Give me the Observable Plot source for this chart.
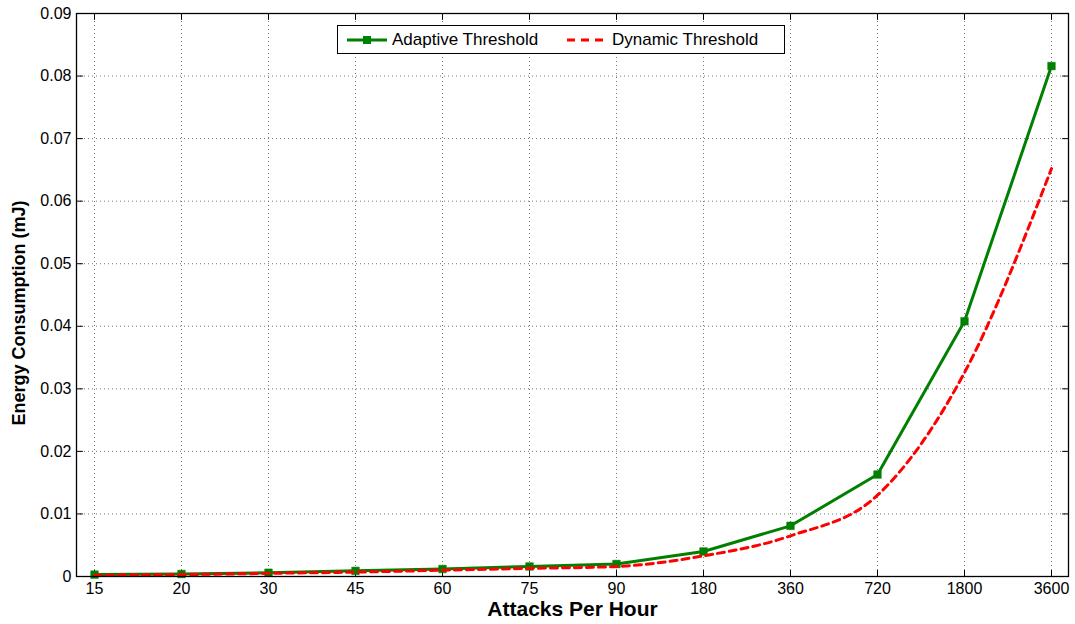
<!DOCTYPE html>
<html>
<head>
<meta charset="utf-8">
<script src="https://cdn.jsdelivr.net/npm/d3@7"></script>
<script src="https://cdn.jsdelivr.net/npm/@observablehq/plot@0.6"></script>
<style>
  html, body { margin: 0; padding: 0; background: #fff; }
  #wrap { position: relative; width: 1075px; height: 624px; font-family: "Liberation Sans", Arial, sans-serif; }
  #legend { position: absolute; left: 337px; top: 25px; width: 446px; height: 27px; border: 1px solid #000; background: #fff; box-sizing: content-box; }
  #legend svg { position: absolute; left: 0; top: 0; }
  #legend span { position: absolute; top: 4px; font-size: 17px; color: #000; white-space: nowrap; }
</style>
</head>
<body>
<div id="wrap"></div>
<script>
const categories = ["15", "20", "30", "45", "60", "75", "90", "180", "360", "720", "1800", "3600"];
const adaptive = [0.0003, 0.0004, 0.0006, 0.0009, 0.0012, 0.0016, 0.0020, 0.0040, 0.0081, 0.0163, 0.0408, 0.0816];
const dynamic  = [0.0002, 0.0003, 0.0005, 0.0007, 0.0010, 0.0013, 0.0016, 0.0033, 0.0065, 0.0130, 0.0326, 0.0652];
const yTicks = [0, 0.01, 0.02, 0.03, 0.04, 0.05, 0.06, 0.07, 0.08, 0.09];
const seriesNames = ["Adaptive Threshold", "Dynamic Threshold"];
const xLabel = "Attacks Per Hour";
const yLabel = "Energy Consumption (mJ)";

const green = "#008000";
const red = "#ff0000";

const rows = categories.map((c, i) => ({x: c, a: adaptive[i], d: dynamic[i]}));

const tickShape = {draw(ctx, l) { ctx.moveTo(0, 0); ctx.lineTo(0, -l); }};
const grid = {stroke: "#777", strokeOpacity: 1, strokeWidth: 1, strokeDasharray: "1,3"};

const chart = Plot.plot({
  width: 1075,
  height: 624,
  marginLeft: 76,
  marginRight: 7,
  marginTop: 13,
  marginBottom: 48,
  style: {fontFamily: "'Liberation Sans', Arial, sans-serif", fontSize: "16px", background: "#fff", color: "#000"},
  x: {type: "point", domain: categories, padding: 0.2},
  y: {domain: [0, 0.09]},
  marks: [
    Plot.gridX(categories, grid),
    Plot.gridY(yTicks, grid),
    Plot.axisX(categories, {anchor: "bottom", tickSize: 0, tickPadding: 6, fontSize: 16, label: null}),
    Plot.axisY(yTicks, {anchor: "left", tickSize: 0, tickPadding: 5, fontSize: 16, label: null,
      tickFormat: d => d === 0 ? "0" : d.toFixed(2)}),
    // inward ticks
    Plot.vector(categories, {x: d => d, frameAnchor: "bottom", length: 6, rotate: 0, anchor: "start", shape: tickShape, stroke: "#000", strokeWidth: 1}),
    Plot.vector(categories, {x: d => d, frameAnchor: "top", length: 6, rotate: 180, anchor: "start", shape: tickShape, stroke: "#000", strokeWidth: 1}),
    Plot.vector(yTicks, {y: d => d, frameAnchor: "left", length: 6, rotate: 90, anchor: "start", shape: tickShape, stroke: "#000", strokeWidth: 1}),
    Plot.vector(yTicks, {y: d => d, frameAnchor: "right", length: 6, rotate: -90, anchor: "start", shape: tickShape, stroke: "#000", strokeWidth: 1}),
    Plot.line(rows, {x: "x", y: "a", stroke: green, strokeWidth: 3}),
    Plot.dot(rows, {x: "x", y: "a", symbol: "square", r: 4.3, fill: green, stroke: green, strokeWidth: 0.5}),
    Plot.line(rows, {x: "x", y: "d", stroke: red, strokeWidth: 3, strokeDasharray: "7,5", curve: "monotone-x"}),
    Plot.frame({stroke: "#000", strokeWidth: 1.3}),
    Plot.text([xLabel], {text: d => d, frameAnchor: "bottom", dy: 33, lineAnchor: "middle", textAnchor: "middle", fontWeight: "bold", fontSize: 21, fill: "#000"}),
    Plot.text([yLabel], {text: d => d, frameAnchor: "left", dx: -57, dy: 18, rotate: -90, lineAnchor: "middle", textAnchor: "middle", fontWeight: "bold", fontSize: 18, fill: "#000"})
  ]
});

const wrap = document.getElementById("wrap");
wrap.appendChild(chart);

// legend inside the plot area
const legend = document.createElement("div");
legend.id = "legend";
legend.innerHTML = `
<svg width="446" height="27">
  <line x1="9" y1="14" x2="49" y2="14" stroke="${green}" stroke-width="3"/>
  <rect x="25" y="10" width="8" height="8" fill="${green}"/>
  <line x1="229" y1="14" x2="269" y2="14" stroke="${red}" stroke-width="3" stroke-dasharray="8,6"/>
</svg>
<span style="left:54px">${seriesNames[0]}</span>
<span style="left:274px">${seriesNames[1]}</span>`;
wrap.appendChild(legend);
</script>
</body>
</html>
